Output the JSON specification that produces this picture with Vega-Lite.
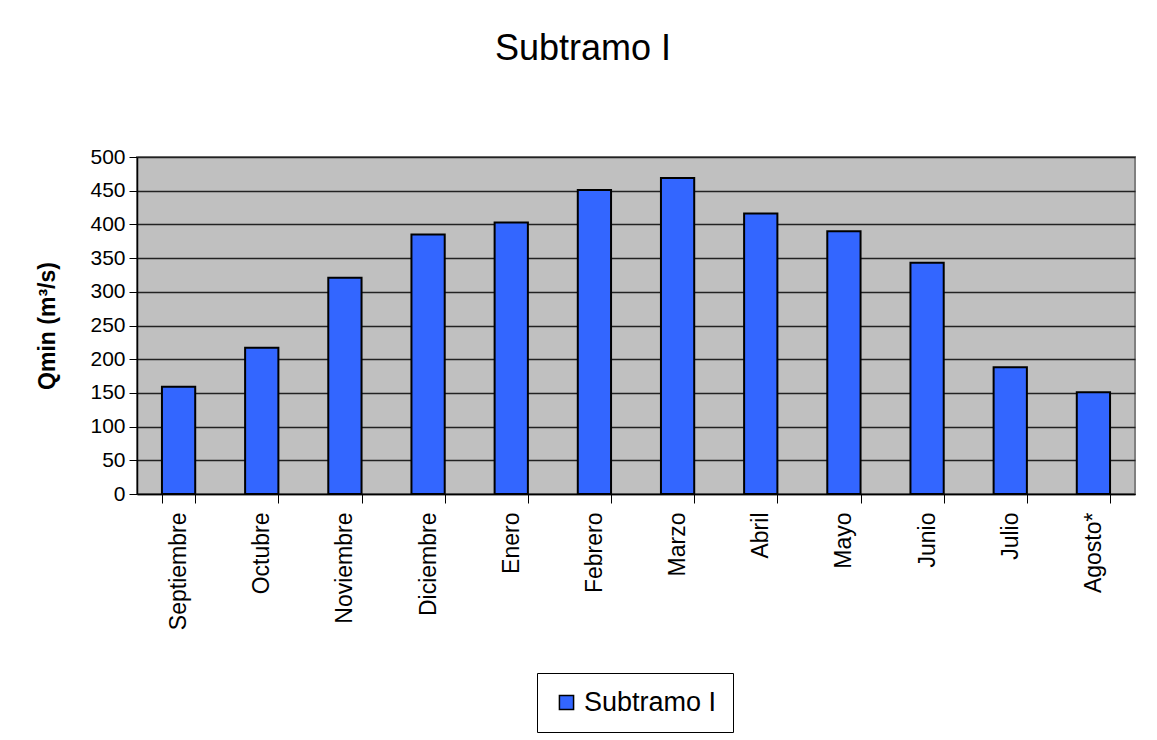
{
  "$schema": "https://vega.github.io/schema/vega-lite/v6.json",
  "width": 998,
  "height": 337,
  "autosize": {"type": "none"},
  "padding": {"left": 137, "top": 157, "right": 22, "bottom": 246},
  "background": "white",
  "title": {
    "text": "Subtramo I",
    "font": "Liberation Sans",
    "fontSize": 36,
    "fontWeight": "normal",
    "color": "black",
    "anchor": "middle",
    "dx": -53,
    "offset": 78
  },
  "data": {
    "values": [
      {"mes": "Septiembre", "q": 159, "serie": "Subtramo I"},
      {"mes": "Octubre", "q": 217, "serie": "Subtramo I"},
      {"mes": "Noviembre", "q": 321, "serie": "Subtramo I"},
      {"mes": "Diciembre", "q": 385, "serie": "Subtramo I"},
      {"mes": "Enero", "q": 403, "serie": "Subtramo I"},
      {"mes": "Febrero", "q": 451, "serie": "Subtramo I"},
      {"mes": "Marzo", "q": 469, "serie": "Subtramo I"},
      {"mes": "Abril", "q": 416, "serie": "Subtramo I"},
      {"mes": "Mayo", "q": 390, "serie": "Subtramo I"},
      {"mes": "Junio", "q": 343, "serie": "Subtramo I"},
      {"mes": "Julio", "q": 188, "serie": "Subtramo I"},
      {"mes": "Agosto*", "q": 151, "serie": "Subtramo I"}
    ]
  },
  "mark": {"type": "bar", "stroke": "black", "strokeWidth": 2},
  "encoding": {
    "x": {
      "field": "mes",
      "type": "nominal",
      "sort": null,
      "scale": {"paddingInner": 0.6, "paddingOuter": 0.3},
      "axis": {
        "title": null,
        "labelAngle": 270,
        "labelAlign": "right",
        "labelBaseline": "middle",
        "labelFont": "Liberation Sans",
        "labelFontSize": 23,
        "labelColor": "black",
        "labelPadding": 9,
        "tickBand": "extent",
        "tickSize": 9,
        "tickColor": "black",
        "tickWidth": 1,
        "domainColor": "black",
        "domainWidth": 1.5,
        "grid": false
      }
    },
    "y": {
      "field": "q",
      "type": "quantitative",
      "scale": {"domain": [0, 500], "nice": false},
      "axis": {
        "title": "Qmin (m³/s)",
        "titleFont": "Liberation Sans",
        "titleFontSize": 23,
        "titleFontWeight": "bold",
        "titleColor": "black",
        "titlePadding": 30,
        "values": [0, 50, 100, 150, 200, 250, 300, 350, 400, 450, 500],
        "labelFont": "Liberation Sans",
        "labelFontSize": 21,
        "labelColor": "black",
        "labelPadding": 4,
        "tickSize": 8,
        "tickColor": "black",
        "tickWidth": 1,
        "domainColor": "black",
        "domainWidth": 1.5,
        "grid": true,
        "gridColor": "#222222",
        "gridWidth": 1.3
      }
    },
    "color": {
      "field": "serie",
      "type": "nominal",
      "scale": {"range": ["#3366FF"]},
      "legend": {
        "title": null,
        "orient": "none",
        "legendX": 400,
        "legendY": 516,
        "symbolType": "square",
        "symbolSize": 200,
        "symbolStrokeColor": "black",
        "symbolStrokeWidth": 1.5,
        "symbolOpacity": 1,
        "labelFont": "Liberation Sans",
        "labelFontSize": 27,
        "labelColor": "black",
        "labelLimit": 300,
        "fillColor": "white",
        "strokeColor": "black",
        "padding": 16
      }
    }
  },
  "config": {
    "view": {"fill": "#C0C0C0", "stroke": "#808080", "strokeWidth": 2}
  }
}
